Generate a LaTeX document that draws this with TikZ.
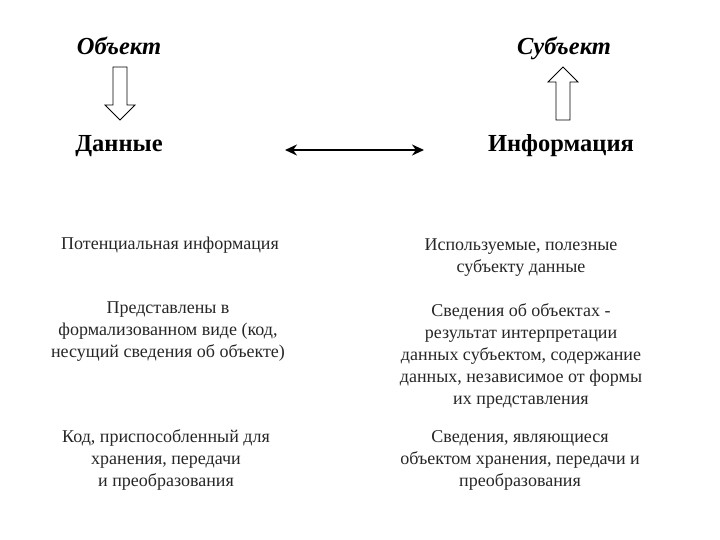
\documentclass[tikz,border=0pt]{standalone}
\usepackage{fontspec}
\setmainfont{Liberation Serif}
\usetikzlibrary{arrows.meta}
\begin{document}
\begin{tikzpicture}[x=1pt,y=-1pt,
  head/.style={font=\fontsize{24.5}{28}\selectfont\bfseries, inner sep=0pt, anchor=base},
  headit/.style={font=\fontsize{24.5}{28}\selectfont\bfseries\itshape, inner sep=0pt, anchor=base},
  body/.style={font=\fontsize{18}{22}\selectfont, align=center, inner sep=0pt, text=black!85},
  hollow/.style={draw=black, line width=0.8pt, fill=white}]
\useasboundingbox (0,0) rectangle (720,540);
\node[headit] (obj) at (119,55) {Объект};
\node[headit] (subj) at (564,55) {Субъект};
\node[head] (data) at (119,152) {Данные};
\node[head] (info) at (561,152) {Информация};
% hollow down arrow
\draw[hollow] (113,67) -- (127,67) -- (127,105) -- (135,105) -- (120,120) -- (105,105) -- (113,105) -- cycle;
% hollow up arrow
\draw[hollow] (556,120) -- (570,120) -- (570,82) -- (578,82) -- (563,67) -- (548,82) -- (556,82) -- cycle;
\coordinate (la) at (285,150);
\coordinate (ra) at (424,150);
\draw[line width=2pt, {Stealth[length=12pt,width=11pt]}-{Stealth[length=12pt,width=11pt]}] (la) -- (ra);
\node[body] (l1) at (170,245) {Потенциальная информация};
\node[body] (l2) at (168,332) {Представлены в\\формализованном виде (код,\\несущий сведения об объекте)};
\node[body] (l3) at (166,460) {Код, приспособленный для\\хранения, передачи\\и преобразования};
\node[body] (r1) at (521,258) {Используемые, полезные\\субъекту данные};
\node[body] (r2) at (521,356) {Сведения об объектах -\\результат интерпретации\\данных субъектом, содержание\\данных, независимое от формы\\их представления};
\node[body] (r3) at (520,460) {Сведения, являющиеся\\объектом хранения, передачи и\\преобразования};
\end{tikzpicture}
\end{document}
